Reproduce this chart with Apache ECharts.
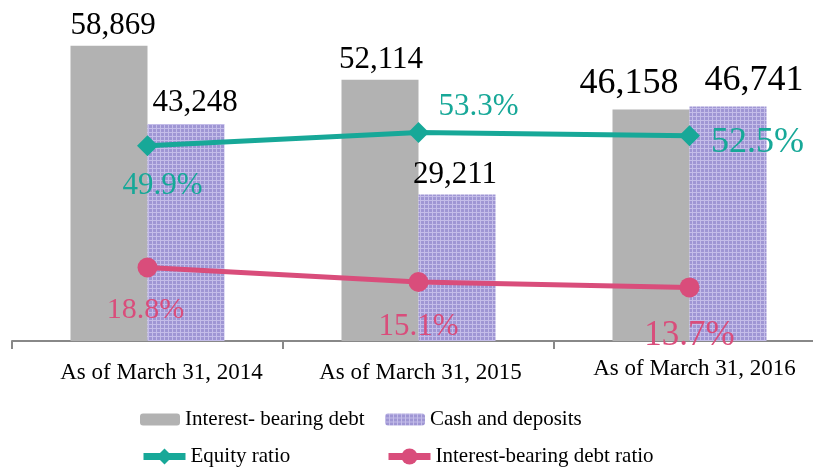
<!DOCTYPE html>
<html>
<head>
<meta charset="utf-8">
<script src="https://cdn.jsdelivr.net/npm/echarts@6/dist/echarts.min.js"></script>
<style>
  html, body { margin: 0; padding: 0; background: #fff; }
  #main { width: 813px; height: 472px; }
</style>
</head>
<body>
<div id="main"></div>
<script>
// data
var categories = ['As of March 31, 2014', 'As of March 31, 2015', 'As of March 31, 2016'];
var debtValues = [58869, 52114, 46158];
var cashValues = [43248, 29211, 46741];
var equityRatio = [49.9, 53.3, 52.5];
var debtRatio = [18.8, 15.1, 13.7];

var serif = '"Liberation Serif", "Times New Roman", serif';

// purple grid pattern for cash bars
function makePattern() {
    var c = document.createElement('canvas');
    c.width = 4; c.height = 4;
    var ctx = c.getContext('2d');
    ctx.fillStyle = '#9f96d4';
    ctx.fillRect(0, 0, 4, 4);
    ctx.fillStyle = '#c4bde9';
    ctx.fillRect(0, 0, 4, 1);
    ctx.fillRect(0, 0, 1, 4);
    return { image: c, repeat: 'repeat' };
}
var cashPattern = makePattern();

var myChart = echarts.init(document.getElementById('main'));

// per-item tweaks of bar labels (the 2016 ones are larger in the picture)
var debtLabelTweak = [
    { fontSize: 31, offset: [4, 0] },
    { fontSize: 31, offset: [1, 0] },
    { fontSize: 36, offset: [-22, -4] }
];
var cashLabelTweak = [
    { fontSize: 31, offset: [9, -2] },
    { fontSize: 31, offset: [-2, 0] },
    { fontSize: 36, offset: [26, -4] }
];
var equityOffsets = [[15, 40], [60, -26], [68, 7]];
var equitySizes = [31, 31, 36];
var debtRatioOffsets = [[-2, 43], [0, 45], [0, 48]];
var debtRatioSizes = [30, 31, 35];

var legendText = { fontFamily: serif, fontSize: 21, color: '#000' };

var option = {
    animation: false,
    grid: { left: 12, right: -12, top: 0, bottom: 131, outerBoundsMode: 'none' },
    legend: [
        { left: 140, top: 409, padding: 0, itemWidth: 40, itemHeight: 12,
          data: ['Interest- bearing debt'], textStyle: legendText },
        { left: 385, top: 409, padding: 0, itemWidth: 40, itemHeight: 12,
          data: ['Cash and deposits'], textStyle: legendText },
        { left: 140, top: 446, padding: 0, itemWidth: 42, itemHeight: 20,
          lineStyle: { width: 7 },
          data: ['Equity ratio'], textStyle: legendText },
        { left: 385, top: 446, padding: 0, itemWidth: 42, itemHeight: 20,
          lineStyle: { width: 7 },
          data: ['Interest-bearing debt ratio'], textStyle: legendText }
    ],
    xAxis: {
        type: 'category',
        data: categories.map(function (c, i) {
            var pad = [[4, 0, 0, 28], [4, 0, 0, 4], [0, 0, 0, 10]][i];
            return { value: c, textStyle: { padding: pad } };
        }),
        axisLine: { lineStyle: { color: '#888', width: 2 } },
        axisTick: { show: true, alignWithLabel: false, length: 8, lineStyle: { color: '#888', width: 2 } },
        axisLabel: { margin: 16, fontFamily: serif, fontSize: 23, color: '#000' }
    },
    yAxis: [
        { type: 'value', min: 0, max: 68000, show: false },
        { type: 'value', min: 0, max: 87.2, show: false }
    ],
    series: [
        {
            name: 'Interest- bearing debt',
            type: 'bar',
            barWidth: 77,
            barGap: '0%',
            itemStyle: { color: '#b2b2b2' },
            data: debtValues.map(function (v, i) {
                return { value: v, label: debtLabelTweak[i] };
            }),
            label: {
                show: true, position: 'top', distance: 4,
                fontFamily: serif, color: '#000',
                formatter: function (p) { return p.value.toLocaleString('en-US'); }
            }
        },
        {
            name: 'Cash and deposits',
            type: 'bar',
            barWidth: 77,
            barGap: '0%',
            itemStyle: { color: cashPattern },
            data: cashValues.map(function (v, i) {
                return { value: v, label: cashLabelTweak[i] };
            }),
            label: {
                show: true, position: 'top', distance: 4,
                fontFamily: serif, color: '#000',
                formatter: function (p) { return p.value.toLocaleString('en-US'); }
            }
        },
        {
            name: 'Equity ratio',
            type: 'line',
            yAxisIndex: 1,
            symbol: 'diamond',
            symbolSize: 21,
            z: 5,
            color: '#17a898',
            lineStyle: { color: '#17a898', width: 5 },
            itemStyle: { color: '#17a898' },
            data: equityRatio.map(function (v, i) {
                return { value: v, label: { offset: equityOffsets[i], fontSize: equitySizes[i] } };
            }),
            label: {
                show: true, position: 'inside',
                fontFamily: serif, color: '#17a898',
                formatter: function (p) { return p.value.toFixed(1) + '%'; }
            }
        },
        {
            name: 'Interest-bearing debt ratio',
            type: 'line',
            yAxisIndex: 1,
            symbol: 'circle',
            symbolSize: 20,
            z: 5,
            color: '#d94d7b',
            lineStyle: { color: '#d94d7b', width: 5 },
            itemStyle: { color: '#d94d7b' },
            data: debtRatio.map(function (v, i) {
                return { value: v, label: { offset: debtRatioOffsets[i], fontSize: debtRatioSizes[i] } };
            }),
            label: {
                show: true, position: 'inside',
                fontFamily: serif, color: '#d94d7b',
                formatter: function (p) { return p.value.toFixed(1) + '%'; }
            }
        }
    ]
};

myChart.setOption(option);
</script>
</body>
</html>
